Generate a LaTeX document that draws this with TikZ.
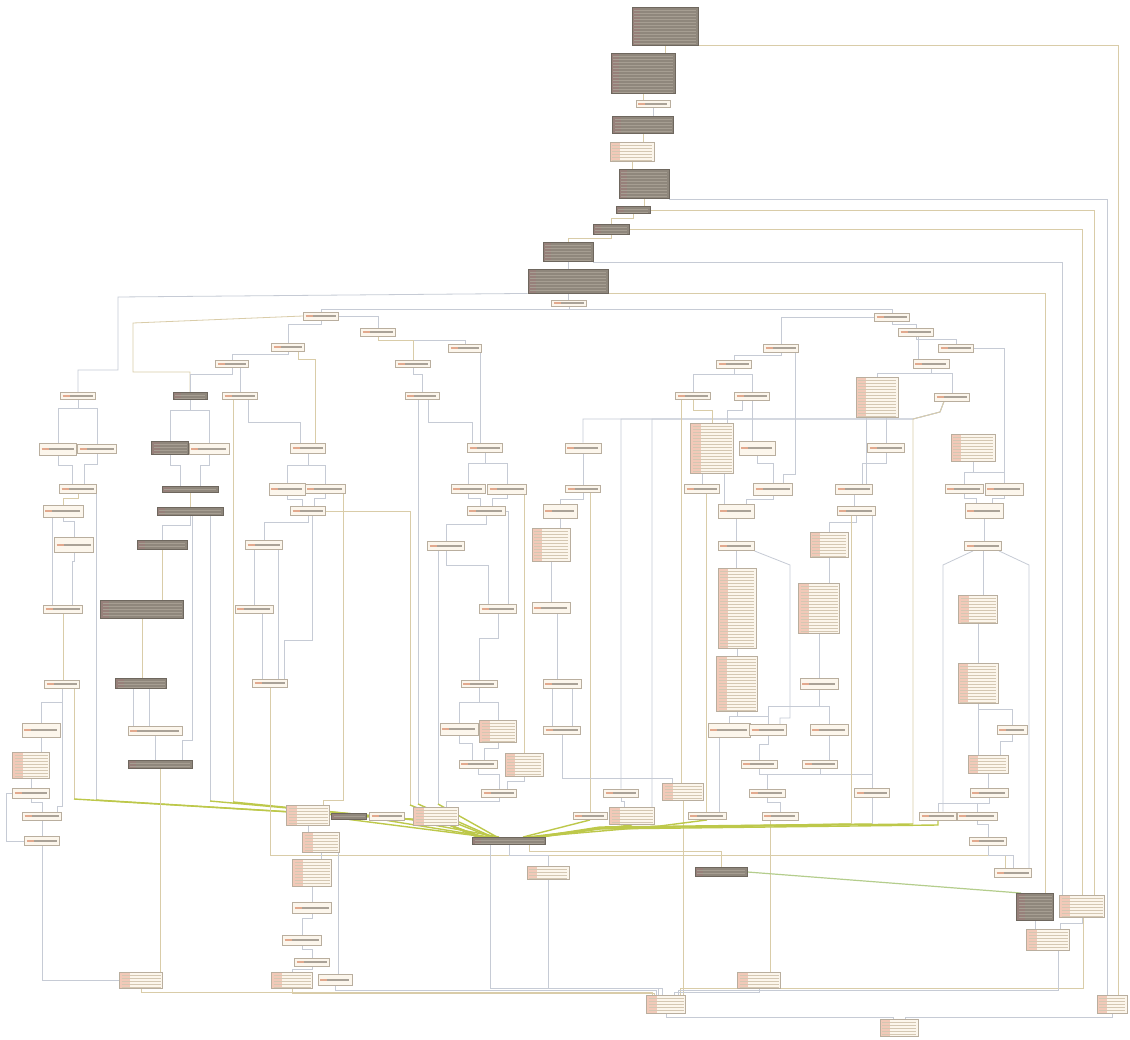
\documentclass[tikz,border=0pt]{standalone}
\usepackage{tikz}
\usetikzlibrary{calc}
\definecolor{boxfill}{RGB}{252,246,236}
\definecolor{boxline}{RGB}{185,174,158}
\definecolor{txtline}{RGB}{170,162,151}
\definecolor{addrline}{RGB}{226,169,142}
\definecolor{addrfill}{RGB}{242,201,184}
\definecolor{codeline}{RGB}{212,199,178}
\definecolor{grayfill}{RGB}{143,135,124}
\definecolor{grayline}{RGB}{110,103,94}
\definecolor{graytxt}{RGB}{166,158,146}
\definecolor{grayaddr}{RGB}{151,128,122}
\definecolor{edgeblue}{RGB}{198,203,213}
\definecolor{edgetan}{RGB}{217,204,168}
\definecolor{edgegreen}{RGB}{180,205,140}
\definecolor{edgeband}{RGB}{189,200,74}
\pgfdeclarelayer{back}
\pgfsetlayers{back,main}
\tikzset{
  sz/.style 2 args={minimum width=#1pt,minimum height=#2pt},
  bk/.style={draw=boxline,fill=boxfill,line width=0.9pt,inner sep=0pt,
    path picture={
      \draw[txtline,line width=1.5pt] ($(path picture bounding box.west)+(3pt,0)$) -- ($(path picture bounding box.east)+(-3pt,0)$);
      \draw[addrline,line width=1.5pt] ($(path picture bounding box.west)+(2pt,0)$) -- ++(7pt,0);}},
  cb/.style={draw=boxline,fill=boxfill,line width=0.9pt,inner sep=0pt,
    path picture={
      \fill[addrfill] (path picture bounding box.south west) rectangle ($(path picture bounding box.north west)+(10pt,0)$);
      \foreach \k in {1,...,27}
        \draw[codeline,line width=0.8pt] ($(path picture bounding box.north west)+(2pt,-\k*3pt)$) -- ($(path picture bounding box.north east)+(-2pt,-\k*3pt)$);}},
  gb/.style={draw=grayline,fill=grayfill,line width=0.9pt,inner sep=0pt,
    path picture={
      \fill[grayaddr] (path picture bounding box.south west) rectangle ($(path picture bounding box.north west)+(8pt,0)$);
      \foreach \k in {1,...,14}
        \draw[graytxt,line width=0.7pt] ($(path picture bounding box.north west)+(2pt,-\k*3pt)$) -- ($(path picture bounding box.north east)+(-2pt,-\k*3pt)$);}},
  lnk/.style={edgeblue,line width=0.8pt},
  lnkt/.style={edgetan,line width=0.8pt},
  lnkg/.style={edgegreen,line width=1.2pt},
  lnky/.style={edgeband,line width=1.4pt}
}
\begin{document}
\begin{tikzpicture}[x=1pt,y=-1pt]
\useasboundingbox (0,0) rectangle (1130,1040);
\node[gb,sz={66}{38}] (t1) at (665,26) {};
\node[gb,sz={64}{40}] (t2) at (643,73) {};
\node[bk,sz={34}{7}] (t3) at (653,104) {};
\node[gb,sz={61}{17}] (t4) at (643,125) {};
\node[cb,sz={44}{19}] (t5) at (632,152) {};
\node[gb,sz={50}{29}] (t6) at (644,184) {};
\node[gb,sz={34}{7}] (t7) at (633,210) {};
\node[gb,sz={36}{10}] (t8) at (611,229) {};
\node[gb,sz={50}{19}] (t9) at (568,252) {};
\node[gb,sz={80}{24}] (t10) at (568,281) {};
\node[bk,sz={35}{6}] (t11) at (569,303) {};
\node[bk,sz={35}{8}] (c1) at (321,316) {};
\node[bk,sz={35}{8}] (c2) at (892,317) {};
\node[bk,sz={35}{8}] (d1) at (378,332) {};
\node[bk,sz={35}{8}] (d2) at (916,332) {};
\node[bk,sz={33}{8}] (e1) at (288,347) {};
\node[bk,sz={33}{8}] (e2) at (465,348) {};
\node[bk,sz={35}{8}] (e3) at (781,348) {};
\node[bk,sz={35}{8}] (e4) at (956,348) {};
\node[bk,sz={33}{7}] (f1) at (232,364) {};
\node[bk,sz={35}{7}] (f2) at (413,364) {};
\node[bk,sz={35}{8}] (f3) at (734,364) {};
\node[bk,sz={36}{9}] (f4) at (931,364) {};
\node[bk,sz={35}{7}] (g1) at (78,396) {};
\node[gb,sz={34}{7}] (g2) at (190,396) {};
\node[bk,sz={35}{7}] (g3) at (240,396) {};
\node[bk,sz={34}{7}] (g4) at (422,396) {};
\node[bk,sz={35}{7}] (g5) at (693,396) {};
\node[bk,sz={35}{8}] (g6) at (752,396) {};
\node[cb,sz={42}{40}] (g7) at (877,397) {};
\node[bk,sz={35}{8}] (g8) at (952,397) {};
\node[bk,sz={37}{12}] (h1) at (58,449) {};
\node[bk,sz={39}{9}] (h2) at (97,449) {};
\node[gb,sz={37}{13}] (h3) at (170,448) {};
\node[bk,sz={40}{11}] (h4) at (209,449) {};
\node[bk,sz={35}{10}] (h5) at (308,448) {};
\node[bk,sz={35}{9}] (h6) at (485,448) {};
\node[bk,sz={36}{10}] (h7) at (583,448) {};
\node[cb,sz={43}{50}] (h8) at (712,448) {};
\node[bk,sz={36}{14}] (h9) at (757,448) {};
\node[bk,sz={37}{9}] (h10) at (886,448) {};
\node[cb,sz={44}{27}] (h11) at (973,448) {};
\node[bk,sz={37}{9}] (i1) at (78,489) {};
\node[gb,sz={56}{6}] (i2) at (190,489) {};
\node[bk,sz={36}{12}] (i3) at (287,489) {};
\node[bk,sz={40}{9}] (i4) at (325,489) {};
\node[bk,sz={34}{9}] (i5) at (468,489) {};
\node[bk,sz={39}{10}] (i6) at (507,489) {};
\node[bk,sz={35}{7}] (i7) at (583,489) {};
\node[bk,sz={35}{9}] (i8) at (702,489) {};
\node[bk,sz={39}{12}] (i9) at (773,489) {};
\node[bk,sz={37}{10}] (i10) at (854,489) {};
\node[bk,sz={38}{9}] (i11) at (964,489) {};
\node[bk,sz={38}{12}] (i12) at (1004,489) {};
\node[bk,sz={40}{12}] (j1) at (63,511) {};
\node[gb,sz={66}{8}] (j2) at (190,511) {};
\node[bk,sz={35}{9}] (j3) at (308,511) {};
\node[bk,sz={38}{9}] (j4) at (486,511) {};
\node[bk,sz={34}{14}] (j5) at (560,511) {};
\node[bk,sz={36}{14}] (j6) at (736,511) {};
\node[bk,sz={38}{9}] (j7) at (856,511) {};
\node[bk,sz={38}{15}] (j8) at (984,511) {};
\node[bk,sz={39}{15}] (k1) at (74,545) {};
\node[gb,sz={50}{9}] (k2) at (162,545) {};
\node[bk,sz={37}{9}] (k3) at (264,545) {};
\node[bk,sz={37}{9}] (k4) at (446,546) {};
\node[cb,sz={38}{33}] (k5) at (551,545) {};
\node[bk,sz={36}{9}] (k6) at (736,546) {};
\node[cb,sz={38}{25}] (k7) at (829,545) {};
\node[bk,sz={37}{9}] (k8) at (983,546) {};
\node[bk,sz={39}{8}] (l1) at (63,609) {};
\node[gb,sz={83}{18}] (l2) at (142,609) {};
\node[bk,sz={38}{8}] (l3) at (254,609) {};
\node[bk,sz={37}{9}] (l4) at (498,609) {};
\node[bk,sz={38}{11}] (l5) at (551,608) {};
\node[cb,sz={38}{80}] (l6) at (737,608) {};
\node[cb,sz={41}{50}] (l7) at (819,608) {};
\node[cb,sz={39}{28}] (l8) at (978,609) {};
\node[bk,sz={35}{8}] (m1) at (62,684) {};
\node[gb,sz={51}{10}] (m2) at (141,683) {};
\node[bk,sz={35}{8}] (m3) at (270,683) {};
\node[bk,sz={36}{7}] (m4) at (479,684) {};
\node[bk,sz={38}{9}] (m5) at (562,684) {};
\node[cb,sz={41}{55}] (m6) at (737,684) {};
\node[bk,sz={38}{11}] (m7) at (819,684) {};
\node[cb,sz={40}{40}] (m8) at (978,683) {};
\node[bk,sz={38}{14}] (n1) at (41,730) {};
\node[bk,sz={54}{9}] (n2) at (155,731) {};
\node[bk,sz={38}{12}] (n3) at (459,729) {};
\node[cb,sz={37}{22}] (n4) at (498,731) {};
\node[bk,sz={37}{8}] (n5) at (562,730) {};
\node[bk,sz={42}{14}] (n6) at (729,730) {};
\node[bk,sz={37}{11}] (n7) at (768,730) {};
\node[bk,sz={38}{11}] (n8) at (829,730) {};
\node[bk,sz={30}{9}] (n9) at (1012,730) {};
\node[cb,sz={37}{26}] (o1) at (31,765) {};
\node[gb,sz={64}{8}] (o2) at (160,764) {};
\node[bk,sz={38}{8}] (o3) at (478,764) {};
\node[cb,sz={38}{23}] (o4) at (524,765) {};
\node[bk,sz={36}{8}] (o5) at (759,764) {};
\node[bk,sz={35}{8}] (o6) at (820,764) {};
\node[cb,sz={40}{18}] (o7) at (988,764) {};
\node[bk,sz={37}{10}] (p1) at (31,793) {};
\node[bk,sz={35}{8}] (p2) at (499,793) {};
\node[bk,sz={35}{8}] (p3) at (621,793) {};
\node[cb,sz={41}{17}] (p4) at (683,792) {};
\node[bk,sz={36}{8}] (p5) at (767,793) {};
\node[bk,sz={35}{9}] (p6) at (872,793) {};
\node[bk,sz={38}{9}] (p7) at (989,793) {};
\node[bk,sz={39}{8}] (q1) at (42,816) {};
\node[cb,sz={43}{20}] (q2) at (308,815) {};
\node[gb,sz={35}{6}] (q3) at (349,816) {};
\node[bk,sz={35}{8}] (q4) at (387,816) {};
\node[cb,sz={45}{18}] (q5) at (436,816) {};
\node[bk,sz={34}{7}] (q6) at (590,816) {};
\node[cb,sz={45}{17}] (q7) at (632,816) {};
\node[bk,sz={38}{7}] (q8) at (707,816) {};
\node[bk,sz={36}{8}] (q9) at (780,816) {};
\node[bk,sz={37}{8}] (q10) at (938,816) {};
\node[bk,sz={40}{8}] (q11) at (977,816) {};
\node[bk,sz={35}{9}] (r1) at (42,841) {};
\node[cb,sz={37}{20}] (r2) at (321,842) {};
\node[gb,sz={73}{7}] (r3) at (509,841) {};
\node[bk,sz={37}{8}] (r4) at (988,841) {};
\node[cb,sz={39}{27}] (s1) at (312,873) {};
\node[cb,sz={42}{13}] (s2) at (548,873) {};
\node[gb,sz={52}{9}] (s3) at (721,872) {};
\node[bk,sz={37}{9}] (s4) at (1013,873) {};
\node[gb,sz={37}{27}] (u1) at (1035,907) {};
\node[cb,sz={45}{22}] (u2) at (1082,906) {};
\node[bk,sz={39}{11}] (u3) at (312,908) {};
\node[cb,sz={43}{21}] (v1) at (1048,940) {};
\node[bk,sz={39}{10}] (v2) at (302,940) {};
\node[bk,sz={35}{8}] (w1) at (312,962) {};
\node[cb,sz={43}{16}] (x1) at (141,980) {};
\node[cb,sz={41}{16}] (x2) at (292,980) {};
\node[bk,sz={34}{11}] (x3) at (335,980) {};
\node[cb,sz={43}{16}] (x4) at (759,980) {};
\node[cb,sz={39}{18}] (y1) at (666,1004) {};
\node[cb,sz={30}{18}] (y2) at (1112,1004) {};
\node[cb,sz={38}{17}] (z1) at (899,1028) {};
\begin{pgfonlayer}{back}
\fill[white] (0,0) rectangle (1130,1040);
\draw[lnkt] (t1.south) -- (t1.south |- t2.north);
\draw[lnkt] (t2.south) -- (t2.south |- t3.north);
\draw[lnk] (t3.south) -- (t3.south |- t4.north);
\draw[lnkt] (t4.south) -- (t4.south |- t5.north);
\draw[lnkt] (t5.south) -- (t5.south |- t6.north);
\draw[lnkt] (t6.south) -- (t6.south |- t7.north);
\draw[lnkt] (t7.south) -- ++(0,4) -| (t8.north);
\draw[lnkt] (t8.south) -- ++(0,4) -| (t9.north);
\draw[lnk] (t9.south) -- (t9.south |- t10.north);
\draw[lnk] (t10.south) -- (t10.south |- t11.north);
\draw[lnkt] (t1.south east) -| ([xshift=6pt]y2.north);
\draw[lnk] (t6.south east) -| ([xshift=-5pt]y2.north);
\draw[lnkt] (t7.east) -| ([xshift=12pt]u2.north);
\draw[lnkt] (t8.east) -| (u2.north);
\draw[lnk] (t9.south east) -| ([xshift=-20pt]u2.north);
\draw[lnkt] (t10.south east) -| ([xshift=10pt]u1.north);
\draw[lnk] (t10.south west) -- (118,297) -- (118,370) -| (g1.north);
\draw[lnk] (t11.south) -- ++(0,3) -| (c1.north);
\draw[lnk] (t11.south) -- ++(0,3) -| (c2.north);
\draw[lnkt] (c1.west) -- (133,323) -- (133,372) -| (g2.north);
\draw[lnk] (c1.south) -- ++(0,4) -| (e1.north);
\draw[lnk] (c1.east) -| (d1.north);
\draw[lnk] (d1.south) -- ++(0,4) -| (e2.north);
\draw[lnkt] (d1.south) -- ++(0,4) -| (f2.north);
\draw[lnk] (e1.south) -- ++(0,3) -| (f1.north);
\draw[lnkt] ([xshift=10pt]e1.south) -- ++(0,8) -| ([xshift=7pt]h5.north);
\draw[lnk] (f1.south) -- ++(0,6) -| (g2.north);
\draw[lnk] ([xshift=8pt]f1.south) -- ([xshift=8pt]f1.south |- g3.north);
\draw[lnk] (g1.south) -- ++(0,8) -| (h1.north);
\draw[lnk] (g1.south) -- ++(0,8) -| (h2.north);
\draw[lnk] (h1.south) -- ++(0,10) -| ([xshift=-6pt]i1.north);
\draw[lnk] (h2.south) -- ++(0,10) -| ([xshift=6pt]i1.north);
\draw[lnkt] (i1.south) -- ++(0,4) -| (j1.north);
\draw[lnk] ([xshift=18pt]i1.south) -- (96,800) edge[lnky,to path={-- (440,821) -- (\tikztotarget)}] ([xshift=-30pt]r3.north);
\draw[lnk] ([xshift=-11pt]j1.south) -- ([xshift=-11pt]j1.south |- l1.north);
\draw[lnk] (j1.south) -- ++(0,4) -| (k1.north);
\draw[lnk] (k1.south) -- ++(0,8) -| ([xshift=9pt]l1.north);
\draw[lnkt] (l1.south) -- (l1.south |- m1.north);
\draw[lnk] (m1.south) -- ++(0,14) -| (n1.north);
\draw[lnk] (m1.south) -- (62,806) -| ([xshift=15pt]q1.north);
\draw[lnkt] ([xshift=12pt]m1.south) -- (74,799) edge[lnky,to path={-- (440,821) -- (\tikztotarget)}] ([xshift=-32pt]r3.north);
\draw[lnk] (n1.south) -- (n1.south |- o1.north);
\draw[lnk] (o1.south) -- (o1.south |- p1.north);
\draw[lnk] (p1.south) -- ++(0,4) -| (q1.north);
\draw[lnk] (p1.west) -- ++(-6,0) |- (r1.west);
\draw[lnk] (q1.south) -- (q1.south |- r1.north);
\draw[lnk] (r1.south) |- (x1.west);
\draw[lnk] (g2.south) -- ++(0,10) -| (h3.north);
\draw[lnk] (g2.south) -- ++(0,10) -| (h4.north);
\draw[lnk] (h3.south) -- ++(0,10) -| ([xshift=-10pt]i2.north);
\draw[lnk] (h4.south) -- ++(0,10) -| ([xshift=10pt]i2.north);
\draw[lnkt] (i2.south) -- (i2.south |- j2.north);
\draw[lnk] (j2.south) -- ++(0,10) -| (k2.north);
\draw[lnk] ([xshift=2pt]j2.south) -- (192,740) -| ([xshift=22pt]o2.north);
\draw[lnk] ([xshift=20pt]j2.south) -- (210,801) edge[lnky,to path={-- (442,822) -- (\tikztotarget)}] ([xshift=-28pt]r3.north);
\draw[lnkt] (k2.south) -- (k2.south |- l2.north);
\draw[lnkt] (l2.south) -- (l2.south |- m2.north);
\draw[lnk] ([xshift=-8pt]m2.south) -- ([xshift=-8pt]m2.south |- n2.north);
\draw[lnk] ([xshift=8pt]m2.south) -- ([xshift=8pt]m2.south |- n2.north);
\draw[lnk] (n2.south) -- (n2.south |- o2.north);
\draw[lnkt] (o2.south) -- (o2.south |- x1.north);
\draw[lnkt] ([xshift=-7pt]g3.south) -- (233,802) edge[lnky,to path={-- (444,823) -- (\tikztotarget)}] ([xshift=-26pt]r3.north);
\draw[lnk] ([xshift=8pt]g3.south) -- ++(0,22) -| ([xshift=-8pt]h5.north);
\draw[lnk] (h5.south) -- ++(0,12) -| (i3.north);
\draw[lnk] (h5.south) -- ++(0,12) -| (i4.north);
\draw[lnk] (i3.south) -- ++(0,4) -| ([xshift=-6pt]j3.north);
\draw[lnk] (i4.south) -- ++(0,4) -| ([xshift=6pt]j3.north);
\draw[lnkt] ([xshift=18pt]i4.south) -- (343,800) -| ([xshift=15pt]q2.north);
\draw[lnk] (j3.south) -- ++(0,6) -| (k3.north);
\draw[lnkt] (j3.east) -| (410,805) edge[lnky] ([xshift=-18pt]r3.north);
\draw[lnk] ([xshift=4pt]j3.south) -- (312,640) -| ([xshift=14pt]m3.north);
\draw[lnk] ([xshift=-10pt]k3.south) -- ([xshift=-10pt]k3.south |- l3.north);
\draw[lnk] ([xshift=14pt]k3.south) -- ([xshift=14pt]k3.south |- m3.north);
\draw[lnk] ([xshift=8pt]l3.south) -- ([xshift=8pt]l3.south |- m3.north);
\draw[lnkt] (m3.south) |- (1005,855) -- ([xshift=-8pt]s4.north);
\draw[lnk] (q2.south) -- (q2.south |- r2.north);
\draw[lnky] (q3.south) -- ([xshift=-22pt]r3.north);
\draw[lnky] (q4.south) -- ([xshift=-20pt]r3.north);
\draw[lnky] (q5.south) -- ([xshift=-10pt]r3.north);
\draw[lnk] (r2.south) -- (r2.south |- s1.north);
\draw[lnk] ([xshift=3pt]x3.north |- r2.south) -- ([xshift=3pt]x3.north);
\draw[lnk] (s1.south) -- (s1.south |- u3.north);
\draw[lnk] (u3.south) -- ++(0,4) -| (v2.north);
\draw[lnk] (v2.south) -- ++(0,4) -| (w1.north);
\draw[lnk] (w1.south) -- ++(0,3) -| (x2.north);
\draw[lnkt] (x1.south) -- ++(0,4) -| ([xshift=-14pt]y1.north);
\draw[lnkt] (x2.south) -- ++(0,5) -| ([xshift=-12pt]y1.north);
\draw[lnk] (x3.south) -- ++(0,4) -| ([xshift=-10pt]y1.north);
\draw[lnk] ([xshift=15pt]e2.south) -- ([xshift=15pt]e2.south |- h6.north);
\draw[lnk] (f2.south) -- ++(0,6) -| (g4.north);
\draw[lnk] ([xshift=6pt]g4.south) -- ++(0,22) -| ([xshift=-13pt]h6.north);
\draw[lnk] ([xshift=-4pt]g4.south) -- (418,804) edge[lnky] ([xshift=-16pt]r3.north);
\draw[lnk] (h6.south) -- ++(0,10) -| (i5.north);
\draw[lnk] (h6.south) -- ++(0,10) -| (i6.north);
\draw[lnk] (i5.south) -- ++(0,4) -| ([xshift=-6pt]j4.north);
\draw[lnk] (i6.south) -- ++(0,4) -| ([xshift=6pt]j4.north);
\draw[lnkt] ([xshift=17pt]i6.south) -- ([xshift=17pt]i6.south |- o4.north);
\draw[lnk] (j4.south) -- ++(0,8) -| (k4.north);
\draw[lnk] (j4.east) -| ([xshift=10pt]l4.north);
\draw[lnk] (k4.south) -- ++(0,14) -| ([xshift=-10pt]l4.north);
\draw[lnk] ([xshift=-8pt]k4.south) -- (438,804) edge[lnky] ([xshift=-12pt]r3.north);
\draw[lnk] (l4.south) -- ++(0,24) -| (m4.north);
\draw[lnk] (m4.south) -- ++(0,14) -| (n3.north);
\draw[lnk] (m4.south) -- ++(0,14) -| (n4.north);
\draw[lnk] (n3.south) -- ++(0,8) -| ([xshift=-6pt]o3.north);
\draw[lnk] (n4.south) -- ++(0,6) -| ([xshift=6pt]o3.north);
\draw[lnk] (o3.south) -- ++(0,6) -| (p2.north);
\draw[lnk] (o4.south) -- ++(0,4) -| ([xshift=8pt]p2.north);
\draw[lnk] (p2.south) -- ++(0,4) -| ([xshift=10pt]q5.north);
\draw[lnk] (h7.south) -- (h7.south |- i7.north);
\draw[lnk] (i7.south) -- ++(0,6) -| (j5.north);
\draw[lnkt] ([xshift=7pt]i7.south) -- ([xshift=7pt]i7.south |- q6.north);
\draw[lnk] (j5.south) -- (j5.south |- k5.north);
\draw[lnk] (k5.south) -- (k5.south |- l5.north);
\draw[lnk] ([xshift=6pt]l5.south) -- ([xshift=6pt]l5.south |- m5.north);
\draw[lnk] ([xshift=-10pt]m5.south) -- ([xshift=-10pt]m5.south |- n5.north);
\draw[lnk] ([xshift=10pt]m5.south) -- ([xshift=10pt]m5.south |- n5.north);
\draw[lnk] (n5.south) -- (562,778) -| ([xshift=-11pt]p4.north);
\draw[lnkt] (p4.south) -- (p4.south |- y1.north);
\draw[lnk] (p3.south) -- ++(0,4) -| ([xshift=-8pt]q7.north);
\draw[lnky] (q6.south) -- ([xshift=14pt]r3.north);
\draw[lnky] (q7.south) -- ([xshift=18pt]r3.north);
\draw[lnky] (q8.south) -- (660,826) -- ([xshift=22pt]r3.north);
\draw[lnk] ([xshift=-8pt]g8.south) -- (940,412) -- (913,419) -| (h7.north);
\draw[lnk] ([xshift=-8pt]g8.south) -- (940,412) -- (913,419) -| (p3.north);
\draw[lnk] ([xshift=-8pt]g8.south) -- (940,412) -- (913,419) -| ([xshift=20pt]q7.north);
\draw[lnkt] ([xshift=-8pt]g8.south) -- (940,412) -- (913,419) -- (913,824) edge[lnky,to path={-- (600,828) -- (\tikztotarget)}] ([xshift=30pt]r3.north);
\draw[lnk] (c2.south) -- ++(0,3) -| (d2.north);
\draw[lnk] (c2.west) -| (e3.north);
\draw[lnk] (d2.south) -- ++(0,3) -| (e4.north);
\draw[lnk] ([xshift=2pt]d2.south) -- ([xshift=2pt]d2.south |- f4.north);
\draw[lnk] (e3.south) -- ++(0,3) -| (f3.north);
\draw[lnk] ([xshift=14pt]e3.south) -- (795,474) -| ([xshift=10pt]i9.north);
\draw[lnk] (e4.east) -| (i12.north);
\draw[lnk] (f3.south) -- ++(0,6) -| (g5.north);
\draw[lnk] (f3.south) -- ++(0,6) -| (g6.north);
\draw[lnk] (f4.south) -- ++(0,4) -| (g7.north);
\draw[lnk] (f4.south) -- ++(0,4) -| (g8.north);
\draw[lnkt] (g5.south) -- ++(0,10) -| (h8.north);
\draw[lnkt] ([xshift=-12pt]g5.south) -- ([xshift=-12pt]g5.south |- p4.north);
\draw[lnk] ([xshift=-10pt]g6.south) -- ++(0,10) -| ([xshift=15pt]h8.north);
\draw[lnk] (g6.south) -- (g6.south |- h9.north);
\draw[lnk] ([xshift=-10pt]h8.south) -- ([xshift=-10pt]h8.south |- i8.north);
\draw[lnk] ([xshift=12pt]h8.south) -- ([xshift=12pt]h8.south |- j6.north);
\draw[lnk] (h9.south) -- ++(0,8) -| (i9.north);
\draw[lnk] (i9.south) -- ++(0,4) -| ([xshift=10pt]j6.north);
\draw[lnkt] ([xshift=4pt]i8.south) -- ([xshift=4pt]i8.south |- q8.north);
\draw[lnk] (j6.south) -- (j6.south |- k6.north);
\draw[lnk] (k6.south) -- (k6.south |- l6.north);
\draw[lnk] (l6.south) -- (l6.south |- m6.north);
\draw[lnk] (m6.south) -- ++(0,4) -| (n6.north);
\draw[lnk] (m6.south) -- ++(0,4) -| (n7.north);
\draw[lnk] (k6.south east) -- (790,565) -- (790,718) -| ([xshift=12pt]n7.north);
\draw[lnk] ([xshift=-10pt]n6.south) -- ([xshift=-10pt]n6.south |- q8.north);
\draw[lnk] (n7.south) -- ++(0,8) -| (o5.north);
\draw[lnk] (n8.south) -- (n8.south |- o6.north);
\draw[lnk] (o5.south) -- ++(0,6) -| (p5.north);
\draw[lnk] (o6.south) -- ++(0,6) -| (p5.north);
\draw[lnk] (o6.south) -- ++(0,6) -| (p6.north);
\draw[lnk] (p5.south) -- ++(0,5) -| (q9.north);
\draw[lnkt] ([xshift=-10pt]q9.south) -- ([xshift=-10pt]q9.south |- x4.north);
\draw[lnk] (p6.south) -- (872,824) edge[lnky,to path={-- (600,827) -- (\tikztotarget)}] ([xshift=26pt]r3.north);
\draw[lnk] ([xshift=9pt]g7.south) -- ([xshift=9pt]g7.south |- h10.north);
\draw[lnk] ([xshift=-11pt]g7.south) -- ([xshift=-11pt]g7.south |- i10.north);
\draw[lnk] (h10.south) -- ++(0,10) -| ([xshift=8pt]i10.north);
\draw[lnk] (i10.south) -- (i10.south |- j7.north);
\draw[lnk] (j7.south) -- ++(0,6) -| (k7.north);
\draw[lnk] ([xshift=16pt]j7.south) -- ([xshift=16pt]j7.south |- p6.north);
\draw[lnkt] ([xshift=-5pt]j7.south) -- (851,824) edge[lnky,to path={-- (600,828) -- (\tikztotarget)}] ([xshift=28pt]r3.north);
\draw[lnk] (k7.south) -- (k7.south |- l7.north);
\draw[lnk] (l7.south) -- (l7.south |- m7.north);
\draw[lnk] (m7.south) -- ++(0,16) -| (n7.north);
\draw[lnk] (m7.south) -- ++(0,16) -| (n8.north);
\draw[lnk] (h11.south) -- ++(0,10) -| (i11.north);
\draw[lnk] (h11.south) -- ++(0,10) -| (i12.north);
\draw[lnk] (i11.south) -- ++(0,4) -| ([xshift=-8pt]j8.north);
\draw[lnk] (i12.south) -- ++(0,3) -| ([xshift=8pt]j8.north);
\draw[lnk] (j8.south) -- (j8.south |- k8.north);
\draw[lnk] (k8.south) -- (k8.south |- l8.north);
\draw[lnk] ([xshift=-10pt]k8.south) -- (943,565) -- ([xshift=5pt]q10.north);
\draw[lnk] ([xshift=16pt]k8.south) -- (1029,565) -- ([xshift=16pt]s4.north);
\draw[lnk] (l8.south) -- (l8.south |- m8.north);
\draw[lnk] (m8.south) -- ++(0,6) -| (n9.north);
\draw[lnk] (m8.south) -- (m8.south |- o7.north);
\draw[lnk] (n9.south) -- ++(0,6) -| ([xshift=12pt]o7.north);
\draw[lnk] (o7.south) -- (o7.south |- p7.north);
\draw[lnk] (p7.south) -- ++(0,5) -| (q10.north);
\draw[lnk] (p7.south) -- ++(0,5) -| (q11.north);
\draw[lnky] (q10.south) -- (938,825) -- (600,829) -- ([xshift=32pt]r3.north);
\draw[lnk] (q11.south) -- ++(0,4) -| (r4.north);
\draw[lnk] (r4.south) -- ++(0,10) -| (s4.north);
\draw[lnk] ([xshift=-19pt]r3.south) -- (490,988) -| ([xshift=-8pt]y1.north);
\draw[lnk] (r3.south) -- ++(0,10) -| (s2.north);
\draw[lnkt] ([xshift=20pt]r3.south) -- ++(0,6) -| (s3.north);
\draw[lnk] (s2.south) -- (548,988) -| ([xshift=-4pt]y1.north);
\draw[lnkg] (s3.east) -- ([xshift=-14pt]u1.north);
\draw[lnk] (u1.south) -- (u1.south |- v1.north);
\draw[lnk] (u2.south) -- ++(0,6) -| ([xshift=12pt]v1.north);
\draw[lnkt] ([xshift=1pt]u2.south) -- (1083,988) -| ([xshift=14pt]y1.north);
\draw[lnk] ([xshift=10pt]v1.south) -- (1058,990) -| ([xshift=12pt]y1.north);
\draw[lnk] (x4.south) -- ++(0,4) -| ([xshift=8pt]y1.north);
\draw[lnk] (y1.south) -- ++(0,4) -| ([xshift=-6pt]z1.north);
\draw[lnk] (y2.south) -- ++(0,4) -| ([xshift=6pt]z1.north);
\end{pgfonlayer}
\end{tikzpicture}
\end{document}
